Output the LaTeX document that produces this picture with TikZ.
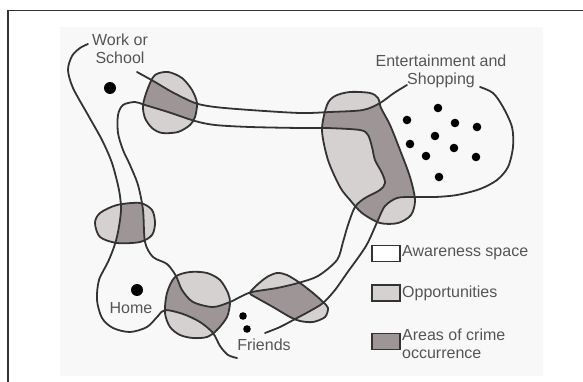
\documentclass[tikz,border=0pt]{standalone}
\usepackage{fontspec}
\setmainfont{Liberation Sans}
\definecolor{lineC}{HTML}{333333}
\definecolor{textC}{HTML}{555555}
\definecolor{lightC}{HTML}{D6D1D1}
\definecolor{darkC}{HTML}{9E9696}
\definecolor{bgC}{HTML}{F8F8F8}
\begin{document}
\begin{tikzpicture}[x=1pt,y=-1pt,
  ln/.style={draw=lineC, line width=1.8pt, line join=round, line cap=round},
  lbl/.style={text=textC, font=\fontsize{16}{18}\selectfont, inner sep=0pt, align=center},
  leg/.style={text=textC, font=\fontsize{16}{18}\selectfont, inner sep=0pt, align=left, anchor=west},
  legbox/.style={draw=lineC, line width=1.8pt, minimum width=28pt, minimum height=16pt, inner sep=0pt}]
\useasboundingbox (0,0) rectangle (583,382);
\fill[bgC] (60,27) rectangle (543,376);
\draw[line width=1.5pt, lineC] (8,382) -- (8,10.5) -- (583,10.5);

% awareness space boundaries
\def\segA{plot[smooth] coordinates {(137,72) (155,82) (172,92) (195,103) (215,107) (250,110) (300,113) (330,112) (363,110) (380,103) (394,93) (407,85)}}
\def\segB{plot[smooth] coordinates {(480,87) (493,93) (503,107) (512,127) (513,147) (508,167) (497,180) (480,189) (457,195) (435,197) (413,197) (397,198) (385,206) (378,220) (366,246) (347,273) (335,290) (323,303) (310,311) (297,318) (280,327) (265,333)}}
\def\segC{plot[smooth] coordinates {(237,358) (228,355) (220,346) (213,333) (200,322) (183,314) (165,310) (158,316) (147,327) (130,332) (113,328) (102,318) (97,300) (99,280) (108,262) (114,247) (118,232) (121,210) (119,190) (112,163) (102,140) (88,115) (73,88) (68,70) (72,56) (80,48) (88,44)}}
\edef\outerpath{\segA -- \segB -- \segC -- cycle}
\def\innerpath{plot[smooth cycle] coordinates {(123,105) (135,102) (145,105) (168,112) (195,121) (215,125) (250,127) (300,128) (327,128) (360,130) (368,135) (372,147) (375,160) (382,173) (385,183) (380,190) (365,198) (355,207) (348,225) (343,242) (337,260) (318,276) (298,283) (277,288) (252,292) (240,297) (230,302) (213,307) (193,302) (182,290) (176,276) (167,264) (153,257) (145,242) (143,210) (138,185) (130,165) (123,150) (118,133) (118,115)}}

% opportunity blobs
\def\blobS{plot[smooth cycle] coordinates {(155,75) (168,72) (182,78) (192,90) (197,103) (195,117) (190,125) (178,132) (162,133) (152,128) (145,118) (143,105) (148,88)}}
\def\blobL{plot[smooth cycle] coordinates {(95,223) (100,213) (117,205) (140,203) (152,210) (155,223) (152,235) (140,242) (117,243) (100,237)}}
\def\blobC{plot[smooth cycle] coordinates {(175,277) (190,272) (207,273) (220,280) (228,293) (230,303) (227,317) (217,330) (207,337) (193,338) (180,335) (170,327) (165,313) (167,293)}}
\def\blobF{plot[smooth cycle] coordinates {(250,293) (257,285) (267,277) (277,273) (287,275) (300,283) (313,293) (323,302) (328,308) (325,317) (313,322) (300,321) (290,317) (273,307) (257,298)}}
\def\blobE{plot[smooth cycle] coordinates {(327,105) (335,96) (350,92) (370,93) (378,98) (381,108) (390,125) (400,150) (410,177) (415,200) (411,215) (398,223) (380,223) (362,213) (350,200) (340,187) (328,160) (322,130)}}
\def\blobs{\blobS \blobL \blobC \blobF \blobE}

\fill[lightC] \blobs;
\begin{scope}
  \clip \outerpath;
  \fill[darkC] \blobs;
\end{scope}
\begin{scope}
  \clip \innerpath;
  \fill[lightC] \blobs;
\end{scope}

\draw[ln] \blobS;
\draw[ln] \blobL;
\draw[ln] \blobC;
\draw[ln] \blobF;
\draw[ln] \blobE;
\draw[ln] \segA;
\draw[ln] \segB;
\draw[ln] \segC;
\draw[ln] \innerpath;

% dots
\fill[black] (110,88) circle (6);
\fill[black] (137,290) circle (6);
\fill[black] (243,316) circle (3.8);
\fill[black] (247,329) circle (3.8);
\foreach \p in {(438,108),(407,120),(455,123),(477,127),(435,136),(410,144),(454,148),(426,156),(476,157),(439,177)}
  \fill[black] \p circle (4.3);

% labels
\node[lbl] (work) at (120,49) {Work or\\School};
\node[lbl] (ent) at (441,71) {Entertainment and\\Shopping};
\node[lbl] (home) at (131,308) {Home};
\node[lbl] (friends) at (264,345) {Friends};

% legend
\node[legbox, fill=white] (lg1) at (386,253.5) {};
\node[legbox, fill=lightC] (lg2) at (386,293) {};
\node[legbox, fill=darkC] (lg3) at (386,341.5) {};
\node[leg] (lt1) at (402,253) {Awareness space};
\node[leg] (lt2) at (402,293) {Opportunities};
\node[leg] (lt3) at (402,344) {Areas of crime\\occurrence};
\end{tikzpicture}
\end{document}
